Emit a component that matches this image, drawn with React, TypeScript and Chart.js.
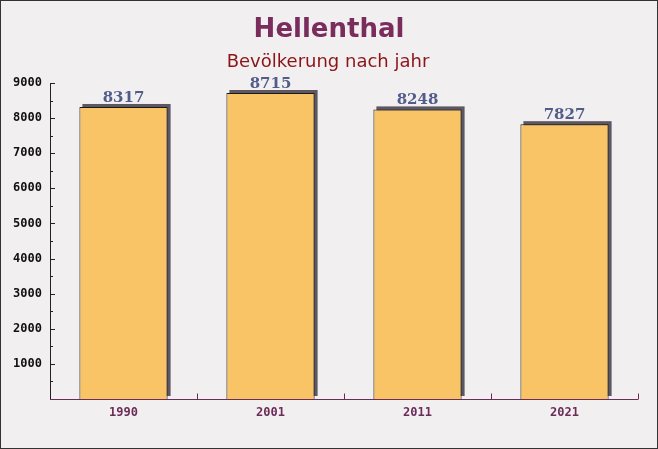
import React, { useEffect, useRef } from "react";
import { Chart, registerables } from "chart.js";

Chart.register(...registerables);

const titleText = "Hellenthal";
const subtitleText = "Bevölkerung nach jahr";
const years = ["1990", "2001", "2011", "2021"];
const population = [8317, 8715, 8248, 7827];
const yMax = 9000;
const yStep = 1000;
const yMinorStep = 500;

const decoPlugin = {
  id: "deco",
  beforeDraw(chart: any) {
    const { ctx, width, height } = chart;
    ctx.save();
    ctx.fillStyle = "#f2eff1";
    ctx.fillRect(0, 0, width, height);
    ctx.restore();
  },
  beforeDatasetsDraw(chart: any) {
    const { ctx } = chart;
    const meta = chart.getDatasetMeta(0);
    ctx.save();
    ctx.fillStyle = "#5c5760";
    meta.data.forEach((bar: any) => {
      const w = bar.width;
      const left = bar.x - w / 2;
      const top = bar.y;
      const bottom = bar.base;
      ctx.fillRect(left + 3, top - 3, w, bottom - top);
    });
    ctx.restore();
  },
  afterDatasetsDraw(chart: any) {
    const { ctx, chartArea, scales } = chart;
    const meta = chart.getDatasetMeta(0);
    const data = chart.data.datasets[0].data;
    ctx.save();
    ctx.font = "bold 15px 'DejaVu Serif'";
    ctx.fillStyle = "#525c8a";
    ctx.textAlign = "center";
    ctx.textBaseline = "alphabetic";
    meta.data.forEach((bar: any, i: number) => {
      ctx.fillText(String(data[i]), bar.x, bar.y - 5);
    });
    const ys = scales.y;
    ctx.strokeStyle = "#222";
    ctx.lineWidth = 1;
    ctx.beginPath();
    ctx.moveTo(chartArea.left + 0.5, chartArea.top);
    ctx.lineTo(chartArea.left + 0.5, chartArea.bottom);
    for (let v = yMinorStep; v <= yMax; v += yMinorStep) {
      const py = Math.round(ys.getPixelForValue(v)) + 0.5;
      const len = v % yStep === 0 ? 5 : 3;
      ctx.moveTo(chartArea.left, py);
      ctx.lineTo(chartArea.left + len, py);
    }
    ctx.stroke();
    const xs = scales.x;
    ctx.strokeStyle = "#6b2d58";
    ctx.beginPath();
    const by = Math.round(chartArea.bottom) + 0.5;
    ctx.moveTo(chartArea.left, by);
    ctx.lineTo(chartArea.right, by);
    const n = chart.data.labels.length;
    for (let i = 0; i < n; i++) {
      const bx =
        i + 1 < n
          ? Math.round((xs.getPixelForValue(i) + xs.getPixelForValue(i + 1)) / 2)
          : Math.round(chartArea.right);
      ctx.moveTo(bx + 0.5, by);
      ctx.lineTo(bx + 0.5, by - 6);
    }
    ctx.stroke();
    ctx.restore();
  },
  afterDraw(chart: any) {
    const { ctx, width, height } = chart;
    ctx.save();
    ctx.textAlign = "center";
    ctx.textBaseline = "middle";
    ctx.fillStyle = "#7a2c5c";
    ctx.font = "bold 26px 'DejaVu Sans'";
    ctx.fillText(titleText, width / 2, 30);
    ctx.fillStyle = "#8b1418";
    ctx.font = "18px 'DejaVu Sans'";
    ctx.fillText(subtitleText, width / 2 - 1, 62);
    ctx.strokeStyle = "#333";
    ctx.lineWidth = 1;
    ctx.strokeRect(0.5, 0.5, width - 1, height - 1);
    ctx.restore();
  },
};

export default function App() {
  const ref = useRef<HTMLCanvasElement>(null);
  useEffect(() => {
    document.body.style.margin = "0";
    const chart = new Chart(ref.current as HTMLCanvasElement, {
      type: "bar",
      data: {
        labels: years,
        datasets: [
          {
            data: population,
            backgroundColor: "#f8c466",
            borderColor: "#1a1a1a",
            borderWidth: 1,
            barPercentage: 0.6,
            categoryPercentage: 1,
          },
        ],
      },
      options: {
        animation: false,
        responsive: false,
        layout: { padding: { top: 83, right: 20, left: 0, bottom: 0 } },
        plugins: { legend: { display: false }, tooltip: { enabled: false } },
        scales: {
          x: {
            grid: { display: false, drawTicks: false },
            border: { display: false },
            ticks: {
              padding: 7,
              color: "#6b2d58",
              font: { family: "'DejaVu Sans Mono'", weight: "bold", size: 12 },
            },
            afterFit: (s: any) => {
              s.height = 50;
            },
          },
          y: {
            min: 0,
            max: yMax,
            grid: { display: false, drawTicks: false },
            border: { display: false },
            ticks: {
              stepSize: yStep,
              padding: 8,
              color: "#111",
              font: { family: "'DejaVu Sans Mono'", weight: "bold", size: 12 },
              callback: (v: any) => (v === 0 ? "" : String(v)),
            },
            afterFit: (s: any) => {
              s.width = 50;
            },
          },
        },
      },
      plugins: [decoPlugin],
    });
    return () => chart.destroy();
  }, []);
  return (
    <div style={{ position: "absolute", left: 0, top: 0, width: 658, height: 449 }}>
      <canvas ref={ref} width={658} height={449} style={{ display: "block" }} />
    </div>
  );
}
